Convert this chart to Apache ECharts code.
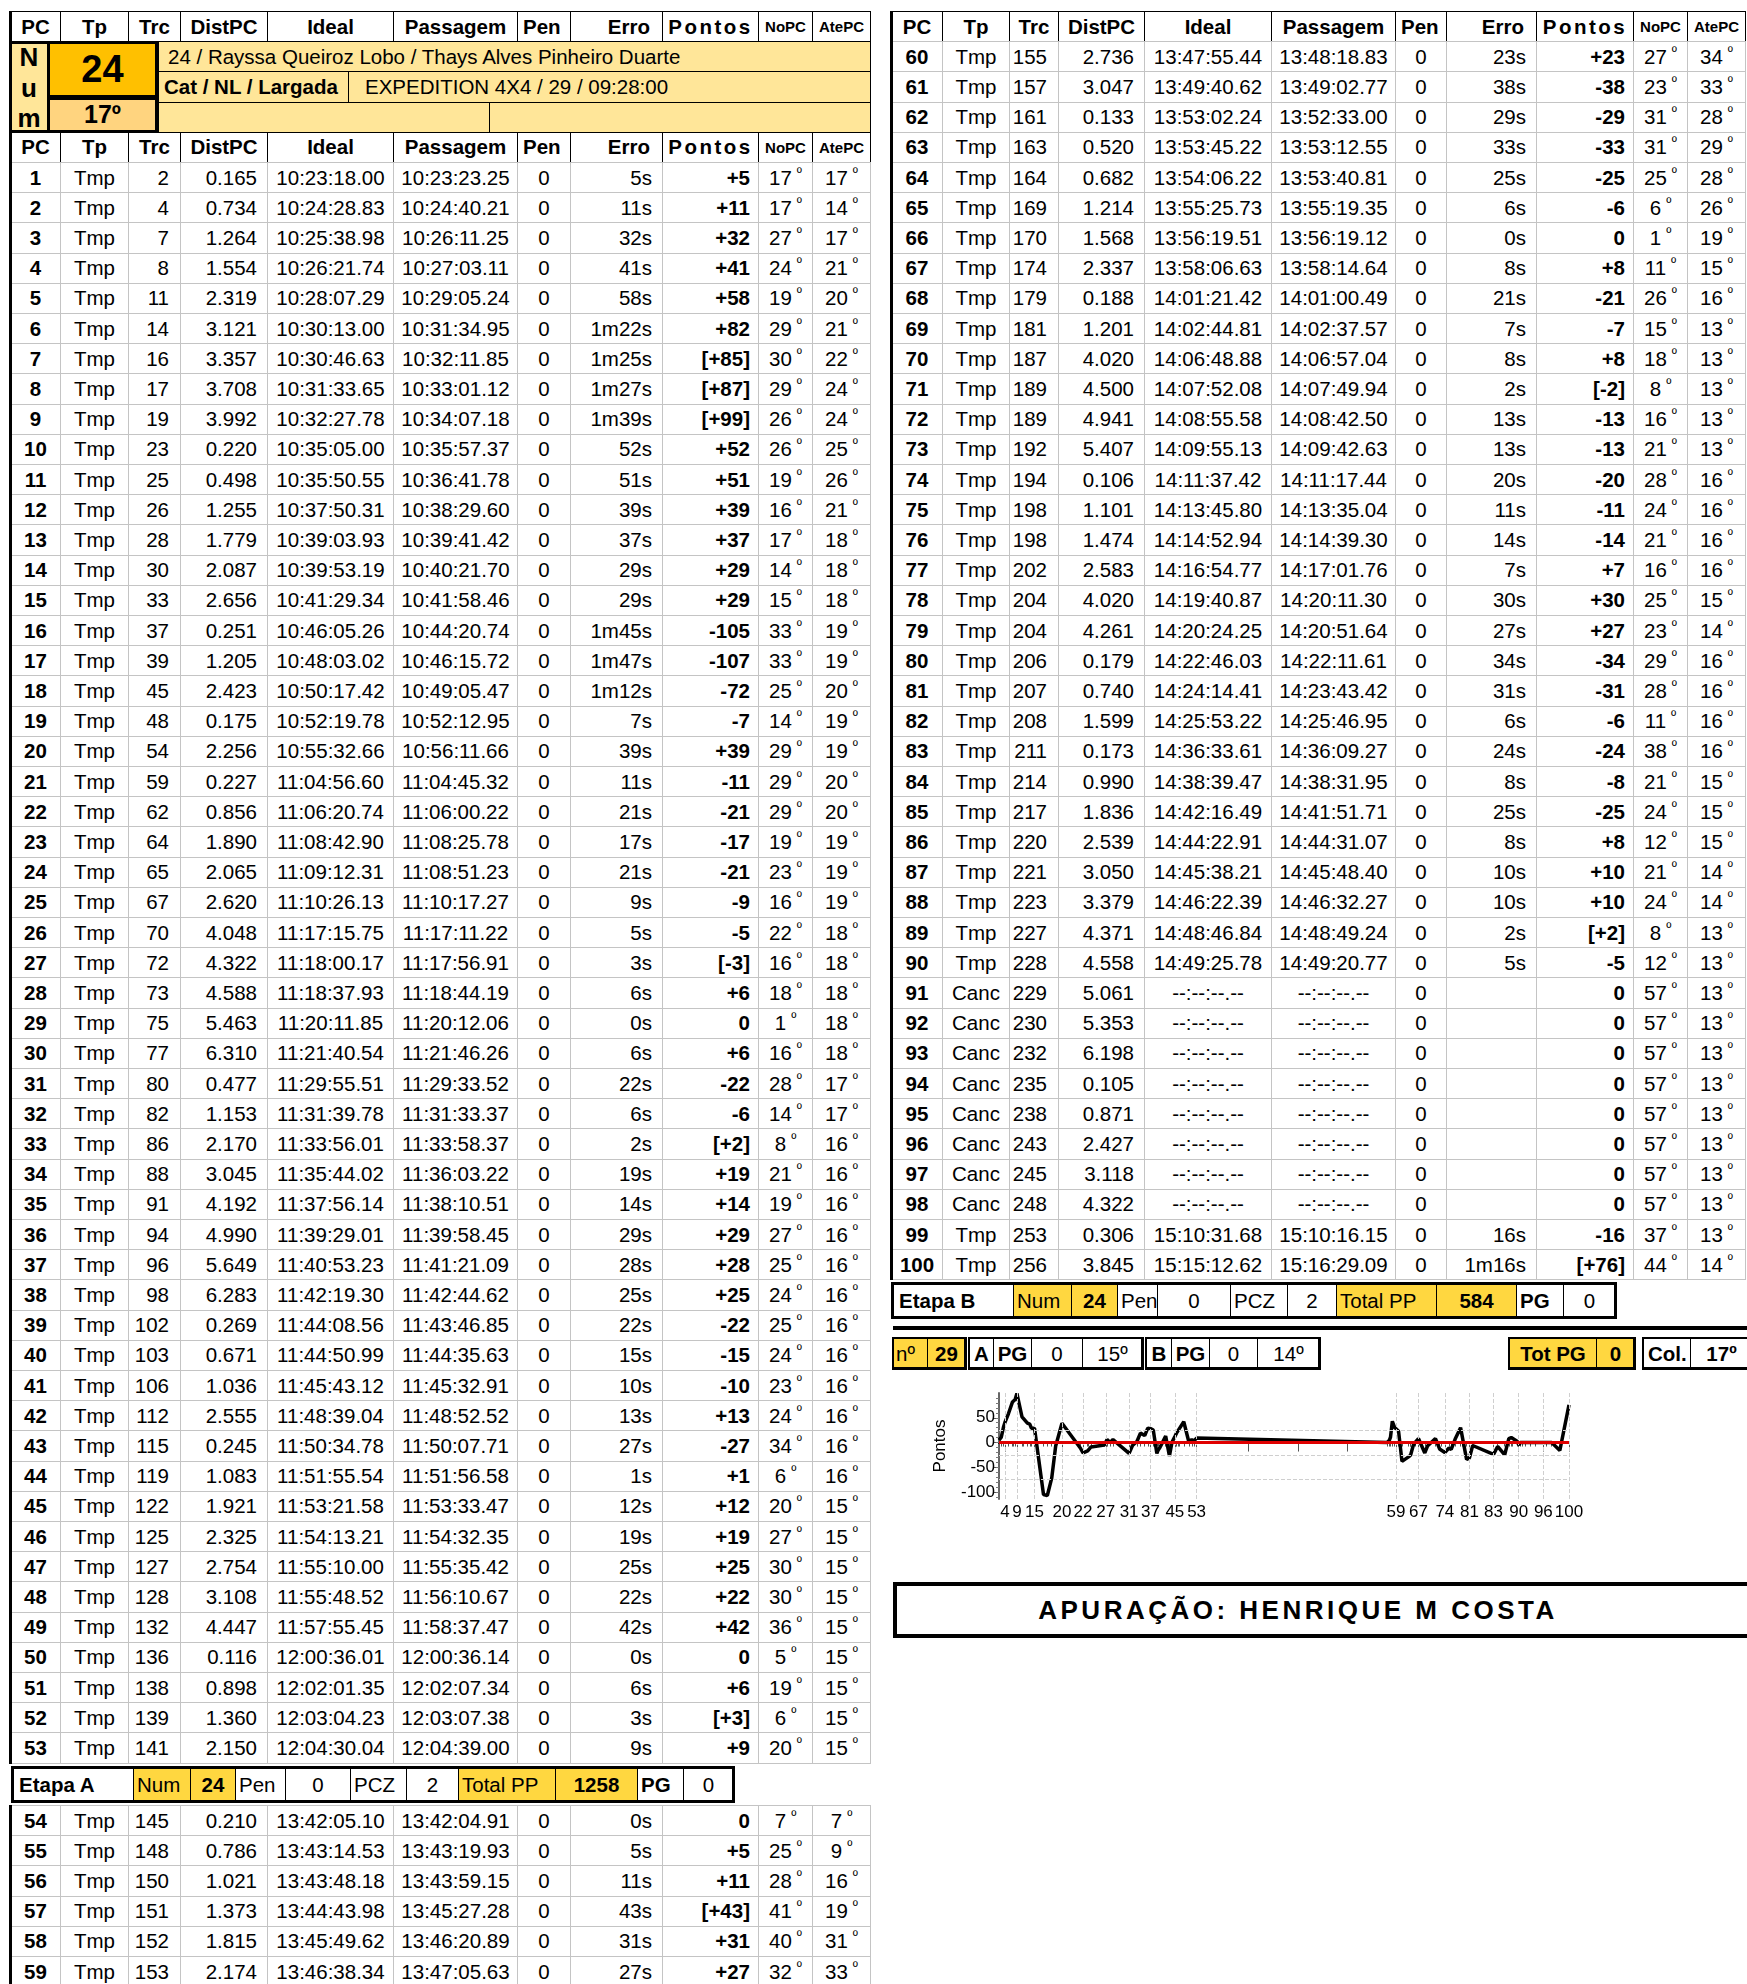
<!DOCTYPE html>
<html>
<head>
<meta charset="utf-8">
<script src="https://cdn.jsdelivr.net/npm/echarts@6.0.0/dist/echarts.min.js"></script>
<style>
    html, body { margin: 0; padding: 0; background: #fff; }
    body { width: 1747px; height: 1984px; position: relative; overflow: hidden;
           font-family: 'Liberation Sans', Arial, sans-serif; color: #000; }
    .c { position: absolute; box-sizing: border-box; display: flex; align-items: center;
         white-space: nowrap; overflow: hidden; font-size: 20.5px; border: 1px solid #c4c4c4; }
    .o { font-size: 14px; position: relative; top: -5px; margin-left: 5px; }
    .t { position: absolute; font-weight: bold; transform: translate(-50%, -50%); white-space: nowrap; }
    #chart { position: absolute; left: 893px; top: 1372px; width: 854px; height: 175px; }
</style>
</head>
<body>
<div id="chart"></div>
<script>
    // ---- dados ----
    const headers = ['PC', 'Tp', 'Trc', 'DistPC', 'Ideal', 'Passagem', 'Pen', 'Erro', 'Pontos', 'NoPC', 'AtePC'];

    const pc = [1, 2, 3, 4, 5, 6, 7, 8, 9, 10, 11, 12, 13, 14, 15, 16, 17, 18, 19, 20,
        21, 22, 23, 24, 25, 26, 27, 28, 29, 30, 31, 32, 33, 34, 35, 36, 37, 38, 39, 40,
        41, 42, 43, 44, 45, 46, 47, 48, 49, 50, 51, 52, 53, 54, 55, 56, 57, 58, 59, 60,
        61, 62, 63, 64, 65, 66, 67, 68, 69, 70, 71, 72, 73, 74, 75, 76, 77, 78, 79, 80,
        81, 82, 83, 84, 85, 86, 87, 88, 89, 90, 91, 92, 93, 94, 95, 96, 97, 98, 99, 100];

    const tp = ['Tmp', 'Tmp', 'Tmp', 'Tmp', 'Tmp', 'Tmp', 'Tmp', 'Tmp', 'Tmp', 'Tmp',
        'Tmp', 'Tmp', 'Tmp', 'Tmp', 'Tmp', 'Tmp', 'Tmp', 'Tmp', 'Tmp', 'Tmp',
        'Tmp', 'Tmp', 'Tmp', 'Tmp', 'Tmp', 'Tmp', 'Tmp', 'Tmp', 'Tmp', 'Tmp',
        'Tmp', 'Tmp', 'Tmp', 'Tmp', 'Tmp', 'Tmp', 'Tmp', 'Tmp', 'Tmp', 'Tmp',
        'Tmp', 'Tmp', 'Tmp', 'Tmp', 'Tmp', 'Tmp', 'Tmp', 'Tmp', 'Tmp', 'Tmp',
        'Tmp', 'Tmp', 'Tmp', 'Tmp', 'Tmp', 'Tmp', 'Tmp', 'Tmp', 'Tmp', 'Tmp',
        'Tmp', 'Tmp', 'Tmp', 'Tmp', 'Tmp', 'Tmp', 'Tmp', 'Tmp', 'Tmp', 'Tmp',
        'Tmp', 'Tmp', 'Tmp', 'Tmp', 'Tmp', 'Tmp', 'Tmp', 'Tmp', 'Tmp', 'Tmp',
        'Tmp', 'Tmp', 'Tmp', 'Tmp', 'Tmp', 'Tmp', 'Tmp', 'Tmp', 'Tmp', 'Tmp',
        'Canc', 'Canc', 'Canc', 'Canc', 'Canc', 'Canc', 'Canc', 'Canc', 'Tmp', 'Tmp'];

    const trc = [2, 4, 7, 8, 11, 14, 16, 17, 19, 23, 25, 26, 28, 30, 33, 37, 39, 45, 48, 54,
        59, 62, 64, 65, 67, 70, 72, 73, 75, 77, 80, 82, 86, 88, 91, 94, 96, 98, 102, 103,
        106, 112, 115, 119, 122, 125, 127, 128, 132, 136, 138, 139, 141, 145, 148, 150, 151, 152, 153, 155,
        157, 161, 163, 164, 169, 170, 174, 179, 181, 187, 189, 189, 192, 194, 198, 198, 202, 204, 204, 206,
        207, 208, 211, 214, 217, 220, 221, 223, 227, 228, 229, 230, 232, 235, 238, 243, 245, 248, 253, 256];

    const distPC = ['0.165', '0.734', '1.264', '1.554', '2.319', '3.121', '3.357', '3.708', '3.992', '0.220',
        '0.498', '1.255', '1.779', '2.087', '2.656', '0.251', '1.205', '2.423', '0.175', '2.256',
        '0.227', '0.856', '1.890', '2.065', '2.620', '4.048', '4.322', '4.588', '5.463', '6.310',
        '0.477', '1.153', '2.170', '3.045', '4.192', '4.990', '5.649', '6.283', '0.269', '0.671',
        '1.036', '2.555', '0.245', '1.083', '1.921', '2.325', '2.754', '3.108', '4.447', '0.116',
        '0.898', '1.360', '2.150', '0.210', '0.786', '1.021', '1.373', '1.815', '2.174', '2.736',
        '3.047', '0.133', '0.520', '0.682', '1.214', '1.568', '2.337', '0.188', '1.201', '4.020',
        '4.500', '4.941', '5.407', '0.106', '1.101', '1.474', '2.583', '4.020', '4.261', '0.179',
        '0.740', '1.599', '0.173', '0.990', '1.836', '2.539', '3.050', '3.379', '4.371', '4.558',
        '5.061', '5.353', '6.198', '0.105', '0.871', '2.427', '3.118', '4.322', '0.306', '3.845'];

    const ideal = ['10:23:18.00', '10:24:28.83', '10:25:38.98', '10:26:21.74', '10:28:07.29',
        '10:30:13.00', '10:30:46.63', '10:31:33.65', '10:32:27.78', '10:35:05.00',
        '10:35:50.55', '10:37:50.31', '10:39:03.93', '10:39:53.19', '10:41:29.34',
        '10:46:05.26', '10:48:03.02', '10:50:17.42', '10:52:19.78', '10:55:32.66',
        '11:04:56.60', '11:06:20.74', '11:08:42.90', '11:09:12.31', '11:10:26.13',
        '11:17:15.75', '11:18:00.17', '11:18:37.93', '11:20:11.85', '11:21:40.54',
        '11:29:55.51', '11:31:39.78', '11:33:56.01', '11:35:44.02', '11:37:56.14',
        '11:39:29.01', '11:40:53.23', '11:42:19.30', '11:44:08.56', '11:44:50.99',
        '11:45:43.12', '11:48:39.04', '11:50:34.78', '11:51:55.54', '11:53:21.58',
        '11:54:13.21', '11:55:10.00', '11:55:48.52', '11:57:55.45', '12:00:36.01',
        '12:02:01.35', '12:03:04.23', '12:04:30.04', '13:42:05.10', '13:43:14.53',
        '13:43:48.18', '13:44:43.98', '13:45:49.62', '13:46:38.34', '13:47:55.44',
        '13:49:40.62', '13:53:02.24', '13:53:45.22', '13:54:06.22', '13:55:25.73',
        '13:56:19.51', '13:58:06.63', '14:01:21.42', '14:02:44.81', '14:06:48.88',
        '14:07:52.08', '14:08:55.58', '14:09:55.13', '14:11:37.42', '14:13:45.80',
        '14:14:52.94', '14:16:54.77', '14:19:40.87', '14:20:24.25', '14:22:46.03',
        '14:24:14.41', '14:25:53.22', '14:36:33.61', '14:38:39.47', '14:42:16.49',
        '14:44:22.91', '14:45:38.21', '14:46:22.39', '14:48:46.84', '14:49:25.78',
        '--:--:--.--', '--:--:--.--', '--:--:--.--', '--:--:--.--', '--:--:--.--',
        '--:--:--.--', '--:--:--.--', '--:--:--.--', '15:10:31.68', '15:15:12.62'];

    const passagem = ['10:23:23.25', '10:24:40.21', '10:26:11.25', '10:27:03.11', '10:29:05.24',
        '10:31:34.95', '10:32:11.85', '10:33:01.12', '10:34:07.18', '10:35:57.37',
        '10:36:41.78', '10:38:29.60', '10:39:41.42', '10:40:21.70', '10:41:58.46',
        '10:44:20.74', '10:46:15.72', '10:49:05.47', '10:52:12.95', '10:56:11.66',
        '11:04:45.32', '11:06:00.22', '11:08:25.78', '11:08:51.23', '11:10:17.27',
        '11:17:11.22', '11:17:56.91', '11:18:44.19', '11:20:12.06', '11:21:46.26',
        '11:29:33.52', '11:31:33.37', '11:33:58.37', '11:36:03.22', '11:38:10.51',
        '11:39:58.45', '11:41:21.09', '11:42:44.62', '11:43:46.85', '11:44:35.63',
        '11:45:32.91', '11:48:52.52', '11:50:07.71', '11:51:56.58', '11:53:33.47',
        '11:54:32.35', '11:55:35.42', '11:56:10.67', '11:58:37.47', '12:00:36.14',
        '12:02:07.34', '12:03:07.38', '12:04:39.00', '13:42:04.91', '13:43:19.93',
        '13:43:59.15', '13:45:27.28', '13:46:20.89', '13:47:05.63', '13:48:18.83',
        '13:49:02.77', '13:52:33.00', '13:53:12.55', '13:53:40.81', '13:55:19.35',
        '13:56:19.12', '13:58:14.64', '14:01:00.49', '14:02:37.57', '14:06:57.04',
        '14:07:49.94', '14:08:42.50', '14:09:42.63', '14:11:17.44', '14:13:35.04',
        '14:14:39.30', '14:17:01.76', '14:20:11.30', '14:20:51.64', '14:22:11.61',
        '14:23:43.42', '14:25:46.95', '14:36:09.27', '14:38:31.95', '14:41:51.71',
        '14:44:31.07', '14:45:48.40', '14:46:32.27', '14:48:49.24', '14:49:20.77',
        '--:--:--.--', '--:--:--.--', '--:--:--.--', '--:--:--.--', '--:--:--.--',
        '--:--:--.--', '--:--:--.--', '--:--:--.--', '15:10:16.15', '15:16:29.09'];

    const pen = [0, 0, 0, 0, 0, 0, 0, 0, 0, 0, 0, 0, 0, 0, 0, 0, 0, 0, 0, 0,
        0, 0, 0, 0, 0, 0, 0, 0, 0, 0, 0, 0, 0, 0, 0, 0, 0, 0, 0, 0,
        0, 0, 0, 0, 0, 0, 0, 0, 0, 0, 0, 0, 0, 0, 0, 0, 0, 0, 0, 0,
        0, 0, 0, 0, 0, 0, 0, 0, 0, 0, 0, 0, 0, 0, 0, 0, 0, 0, 0, 0,
        0, 0, 0, 0, 0, 0, 0, 0, 0, 0, 0, 0, 0, 0, 0, 0, 0, 0, 0, 0];

    const erro = ['5s', '11s', '32s', '41s', '58s', '1m22s', '1m25s', '1m27s', '1m39s', '52s',
        '51s', '39s', '37s', '29s', '29s', '1m45s', '1m47s', '1m12s', '7s', '39s',
        '11s', '21s', '17s', '21s', '9s', '5s', '3s', '6s', '0s', '6s',
        '22s', '6s', '2s', '19s', '14s', '29s', '28s', '25s', '22s', '15s',
        '10s', '13s', '27s', '1s', '12s', '19s', '25s', '22s', '42s', '0s',
        '6s', '3s', '9s', '0s', '5s', '11s', '43s', '31s', '27s', '23s',
        '38s', '29s', '33s', '25s', '6s', '0s', '8s', '21s', '7s', '8s',
        '2s', '13s', '13s', '20s', '11s', '14s', '7s', '30s', '27s', '34s',
        '31s', '6s', '24s', '8s', '25s', '8s', '10s', '10s', '2s', '5s',
        '', '', '', '', '', '', '', '', '16s', '1m16s'];

    const pontos = ['+5', '+11', '+32', '+41', '+58', '+82', '[+85]', '[+87]', '[+99]', '+52',
        '+51', '+39', '+37', '+29', '+29', '-105', '-107', '-72', '-7', '+39',
        '-11', '-21', '-17', '-21', '-9', '-5', '[-3]', '+6', '0', '+6',
        '-22', '-6', '[+2]', '+19', '+14', '+29', '+28', '+25', '-22', '-15',
        '-10', '+13', '-27', '+1', '+12', '+19', '+25', '+22', '+42', '0',
        '+6', '[+3]', '+9', '0', '+5', '+11', '[+43]', '+31', '+27', '+23',
        '-38', '-29', '-33', '-25', '-6', '0', '+8', '-21', '-7', '+8',
        '[-2]', '-13', '-13', '-20', '-11', '-14', '+7', '+30', '+27', '-34',
        '-31', '-6', '-24', '-8', '-25', '+8', '+10', '+10', '[+2]', '-5',
        '0', '0', '0', '0', '0', '0', '0', '0', '-16', '[+76]'];

    const noPC = [17, 17, 27, 24, 19, 29, 30, 29, 26, 26, 19, 16, 17, 14, 15, 33, 33, 25, 14, 29,
        29, 29, 19, 23, 16, 22, 16, 18, 1, 16, 28, 14, 8, 21, 19, 27, 25, 24, 25, 24,
        23, 24, 34, 6, 20, 27, 30, 30, 36, 5, 19, 6, 20, 7, 25, 28, 41, 40, 32, 27,
        23, 31, 31, 25, 6, 1, 11, 26, 15, 18, 8, 16, 21, 28, 24, 21, 16, 25, 23, 29,
        28, 11, 38, 21, 24, 12, 21, 24, 8, 12, 57, 57, 57, 57, 57, 57, 57, 57, 37, 44];

    const atePC = [17, 14, 17, 21, 20, 21, 22, 24, 24, 25, 26, 21, 18, 18, 18, 19, 19, 20, 19, 19,
        20, 20, 19, 19, 19, 18, 18, 18, 18, 18, 17, 17, 16, 16, 16, 16, 16, 16, 16, 16,
        16, 16, 16, 16, 15, 15, 15, 15, 15, 15, 15, 15, 15, 7, 9, 16, 19, 31, 33, 34,
        33, 28, 29, 28, 26, 19, 15, 16, 13, 13, 13, 13, 13, 16, 16, 16, 16, 15, 14, 16,
        16, 16, 16, 15, 15, 15, 14, 14, 13, 13, 13, 13, 13, 13, 13, 13, 13, 13, 13, 14];

    // horario estimado no grafico para os PCs cancelados (91-98)
    const cancTime = ['14:50:15', '14:51:05', '14:52:50', '14:55:20', '14:57:50', '15:02:05', '15:03:45', '15:06:20'];
    // PCs com rotulo no eixo X do grafico
    const labelPCs = [4, 9, 15, 20, 22, 27, 31, 37, 45, 53, 59, 67, 74, 81, 83, 90, 96, 100];
    const gapTicks = ['12:30:50', '12:56:25', '13:21:30'];
    const yLabels = [-100, -50, 0, 50];
    const yMinorTicks = [-110, -100, -90, -80, -70, -60, -50, -40, -30, -20, -10, 0, 10, 20, 30, 40, 50, 60, 70, 80, 90];
    const yGrid = [25, -25, -75];

    const equipe = '24 / Rayssa Queiroz Lobo / Thays Alves Pinheiro Duarte';
    const catLabel = 'Cat / NL / Largada';
    const catValue = 'EXPEDITION 4X4 / 29 / 09:28:00';
    const numero = '24';
    const colocacao = '17º';
    const etapaA = ['Etapa A', 'Num', '24', 'Pen', '0', 'PCZ', '2', 'Total PP', '1258', 'PG', '0'];
    const etapaB = ['Etapa B', 'Num', '24', 'Pen', '0', 'PCZ', '2', 'Total PP', '584', 'PG', '0'];
    const resumoN = ['nº', '29'];
    const resumoA = ['A', 'PG', '0', '15º'];
    const resumoB = ['B', 'PG', '0', '14º'];
    const resumoTot = ['Tot PG', '0'];
    const resumoCol = ['Col.', '17º'];
    const apuracao = 'APURAÇÃO: HENRIQUE M COSTA';

    // ---- layout ----
    const COLS_L = [50, 68, 52, 87, 126, 124, 53, 92, 96, 54, 58];
    const COLS_R = [51, 67, 49, 86, 127, 124, 51, 90, 97, 54, 58];
    const X_L = 10, X_R = 891;
    const ROW_H = 30.2, TOP = 11;
    const rowY = r => TOP + ROW_H * r;
    const Y_INFO = '#FFE699', Y_GOLD = '#FFC000', Y_ORANGE = '#FFD47F', Y_ETAPA = '#FFD740';
    const bodyAlign = ['c', 'c', 'r', 'r', 'c', 'c', 'c', 'r', 'r', 'c', 'c'];
    const bodyPad = [0, 0, 11, 10, 0, 0, 0, 10, 8, 0, 0];
    const headAlign = ['c', 'c', 'c', 'c', 'c', 'c', 'l', 'r', 'c', 'c', 'c'];

    function put(x, y, w, h, html, o = {}) {
        const d = document.createElement('div');
        d.className = 'c';
        Object.assign(d.style, {left: x + 'px', top: y + 'px', width: (w + 1) + 'px', height: (h + 1) + 'px'});
        const a = o.align || 'c';
        d.style.justifyContent = a === 'l' ? 'flex-start' : a === 'r' ? 'flex-end' : 'center';
        if (a === 'l') d.style.paddingLeft = (o.pad ?? 5) + 'px';
        if (a === 'r') d.style.paddingRight = (o.pad ?? 10) + 'px';
        if (o.bold) d.style.fontWeight = 'bold';
        if (o.bg) d.style.background = o.bg;
        if (o.bc) d.style.borderColor = o.bc;
        if (o.bw) d.style.borderWidth = o.bw;
        if (o.fs) d.style.fontSize = o.fs + 'px';
        if (o.ls) d.style.letterSpacing = o.ls + 'px';
        d.innerHTML = html;
        document.body.appendChild(d);
        return d;
    }

    function box(x, y, w, h, border, bg) {
        const d = document.createElement('div');
        Object.assign(d.style, {position: 'absolute', left: x + 'px', top: y + 'px', width: w + 'px', height: h + 'px',
            boxSizing: 'border-box', border: border, background: bg || 'transparent'});
        document.body.appendChild(d);
        return d;
    }

    const deg = v => v + '<span class="o">º</span>';

    function headerRow(x0, y, cols) {
        let x = x0;
        cols.forEach((w, j) => {
            const small = j >= 9;
            put(x, y, w, ROW_H, headers[j], {
                align: headAlign[j], bold: true, bc: '#000', pad: j === 6 ? 5 : 12,
                fs: small ? 15 : null, ls: j === 8 ? 2.5 : null
            });
            x += w;
        });
    }

    function bodyRow(x0, y, cols, i) {
        const vals = [pc[i], tp[i], trc[i], distPC[i], ideal[i], passagem[i], pen[i], erro[i], pontos[i], deg(noPC[i]), deg(atePC[i])];
        let x = x0;
        cols.forEach((w, j) => {
            put(x, y, w, ROW_H, vals[j], {align: bodyAlign[j], pad: bodyPad[j], bold: j === 0 || j === 8});
            x += w;
        });
    }

    // tabela esquerda
    headerRow(X_L, rowY(0), COLS_L);
    headerRow(X_L, rowY(4), COLS_L);
    for (let i = 0; i < 53; i++) bodyRow(X_L, rowY(5 + i), COLS_L, i);
    for (let i = 53; i < 59; i++) bodyRow(X_L, 1805 + ROW_H * (i - 53), COLS_L, i);
    box(X_L - 1, rowY(0), 3, rowY(58) - rowY(0) + 1, 'none', '#000');
    box(X_L - 1, 1805, 3, 200, 'none', '#000');

    // tabela direita
    headerRow(X_R, rowY(0), COLS_R);
    for (let i = 59; i < 100; i++) bodyRow(X_R, rowY(i - 58), COLS_R, i);
    box(X_R - 1, rowY(0), 3, rowY(42) - rowY(0) + 1, 'none', '#000');

    // bloco de identificacao
    put(157, rowY(1), 713, ROW_H, equipe, {align: 'l', pad: 10, bg: Y_INFO, bc: '#000'});
    put(157, rowY(2), 191, ROW_H, catLabel, {align: 'l', pad: 6, bg: Y_INFO, bc: '#000', bold: true});
    put(348, rowY(2), 522, ROW_H, catValue, {align: 'l', pad: 16, bg: Y_INFO, bc: '#000'});
    put(157, rowY(3), 332, ROW_H, '', {bg: Y_INFO, bc: '#000'});
    put(489, rowY(3), 381, ROW_H, '', {bg: Y_INFO, bc: '#000'});
    box(9, rowY(1), 150, rowY(4) - rowY(1) + 1, '3px solid #000', Y_INFO);
    put(47, rowY(1), 110, 56, numero, {bg: Y_GOLD, bc: '#000', bw: '3px', bold: true, fs: 38});
    put(47, rowY(1) + 56, 110, rowY(4) - rowY(1) - 56, colocacao, {bg: Y_ORANGE, bc: '#000', bw: '3px', bold: true, fs: 25});
    ['N', 'u', 'm'].forEach((ch, k) => {
        const t = document.createElement('div');
        t.className = 't';
        t.textContent = ch;
        Object.assign(t.style, {left: '29px', top: (57 + k * 30.5) + 'px', fontSize: '26px'});
        document.body.appendChild(t);
    });

    // caixas de etapa
    function etapa(x, y, widths, vals) {
        const yellow = [1, 2, 7, 8], bold = [0, 2, 8, 9], center = [2, 4, 6, 8, 10];
        let cx = x;
        widths.forEach((w, j) => {
            put(cx, y, w, 34, vals[j], {
                bg: yellow.includes(j) ? Y_ETAPA : '#fff', bc: '#000', bold: bold.includes(j),
                align: center.includes(j) ? 'c' : 'l', pad: j === 0 ? 6 : 3
            });
            cx += w;
        });
        box(x - 1, y - 1, cx - x + 3, 37, '3px solid #000');
    }
    etapa(12, 1767, [121, 57, 45, 50, 65, 56, 52, 97, 82, 46, 50], etapaA);
    etapa(892, 1283, [121, 58, 46, 40, 73, 57, 49, 100, 80, 47, 52], etapaB);

    // linha grossa
    box(893, 1326, 860, 4, 'none', '#000');

    // resumo
    function grupo(x, widths, vals, opts) {
        let cx = x;
        widths.forEach((w, j) => {
            const o = opts[j] || {};
            put(cx, 1338, w, 30, vals[j], Object.assign({bc: '#000'}, o));
            cx += w;
        });
        const b = box(x - 1, 1337, cx - x + 3, 33, '2px solid #000');
        b.style.borderRightWidth = '3px';
        b.style.borderBottomWidth = '3px';
    }
    grupo(893, [34, 38], resumoN, [{bg: Y_ETAPA, align: 'l', pad: 2}, {bg: Y_ETAPA, bold: true}]);
    grupo(969, [24, 38, 51, 60], resumoA, [{bold: true}, {bold: true}, {}, {}]);
    grupo(1146, [25, 38, 48, 62], resumoB, [{bold: true}, {bold: true}, {}, {}]);
    grupo(1509, [87, 38], resumoTot, [{bg: Y_ETAPA, bold: true}, {bg: Y_ETAPA, bold: true}]);
    grupo(1643, [47, 62], resumoCol, [{bold: true, align: 'l', pad: 4}, {bold: true}]);

    // rodape
    box(893, 1582, 900, 56, '4px solid #000');
    const ap = document.createElement('div');
    ap.textContent = apuracao;
    Object.assign(ap.style, {position: 'absolute', left: '893px', top: '1582px', width: '810px', height: '56px',
        lineHeight: '56px', textAlign: 'center', fontWeight: 'bold', fontSize: '26px', letterSpacing: '3.5px'});
    document.body.appendChild(ap);

    // ---- grafico ----
    const toSec = s => {
        const p = s.split(':');
        return +p[0] * 3600 + +p[1] * 60 + parseFloat(p[2]);
    };
    const xs = pc.map((p, i) => tp[i] === 'Canc' ? toSec(cancTime[p - 91]) : toSec(ideal[i]));
    const ys = pontos.map(s => parseInt(s.replace(/[\[\]+]/g, ''), 10));
    const lineData = xs.map((x, i) => [x, ys[i]]);
    const labelVals = labelPCs.map(p => xs[p - 1]);
    const labelMap = {};
    labelPCs.forEach(p => { labelMap[xs[p - 1].toFixed(2)] = String(p); });
    const xMin = xs[0], xMax = xs[xs.length - 1];
    const dashed = {color: '#cfcfcf', type: 'dashed', width: 1};

    const chart = echarts.init(document.getElementById('chart'));
    chart.setOption({
        animation: false,
        grid: {left: 106, top: 21, width: 570, height: 106, outerBoundsMode: 'none'},
        xAxis: [
            {
                type: 'value', position: 'bottom', min: xMin, max: xMax,
                axisLine: {lineStyle: {color: '#000', width: 2}},
                axisTick: {customValues: xs, length: 4, lineStyle: {color: '#555'}},
                axisLabel: {show: false},
                splitLine: {show: false}
            },
            {
                type: 'value', position: 'bottom', min: xMin, max: xMax,
                axisLine: {show: false},
                axisTick: {customValues: labelVals.concat(gapTicks.map(toSec)), length: 9, lineStyle: {color: '#555'}},
                axisLabel: {
                    customValues: labelVals, fontSize: 17, color: '#000', margin: 5,
                    fontFamily: 'Liberation Sans',
                    formatter: v => labelMap[v.toFixed(2)] || ''
                },
                splitLine: {show: false}
            }
        ],
        yAxis: [
            {
                type: 'value', position: 'left', min: -114, max: 100,
                axisLine: {show: true, lineStyle: {color: '#666', width: 2}},
                axisTick: {show: true, customValues: yLabels, length: 6, lineStyle: {color: '#555'}},
                axisLabel: {customValues: yLabels, fontSize: 17, color: '#000', margin: 4, fontFamily: 'Liberation Sans'},
                splitLine: {show: false},
                name: 'Pontos', nameLocation: 'middle', nameGap: 50,
                nameTextStyle: {fontSize: 17, color: '#000', fontFamily: 'Liberation Sans'}
            },
            {
                type: 'value', position: 'left', min: -114, max: 100,
                axisLine: {show: false},
                axisTick: {show: true, customValues: yMinorTicks, length: 3, lineStyle: {color: '#777'}},
                axisLabel: {show: false},
                splitLine: {show: false}
            }
        ],
        series: [
            {
                type: 'line', data: [], xAxisIndex: 0, yAxisIndex: 0, z: 1, silent: true,
                markLine: {
                    silent: true, symbol: 'none', label: {show: false}, animation: false,
                    data: yGrid.map(v => ({yAxis: v, lineStyle: dashed}))
                        .concat(labelVals.map(v => ({xAxis: v, lineStyle: dashed})))
                }
            },
            {
                type: 'line', data: lineData, xAxisIndex: 0, yAxisIndex: 0, z: 3,
                showSymbol: false, symbol: 'none',
                lineStyle: {color: '#000', width: 3.5},
                markLine: {
                    silent: true, symbol: 'none', label: {show: false}, animation: false,
                    data: [{yAxis: 0, lineStyle: {color: '#e00000', type: 'solid', width: 3}}]
                }
            }
        ]
    });
</script>
</body>
</html>
